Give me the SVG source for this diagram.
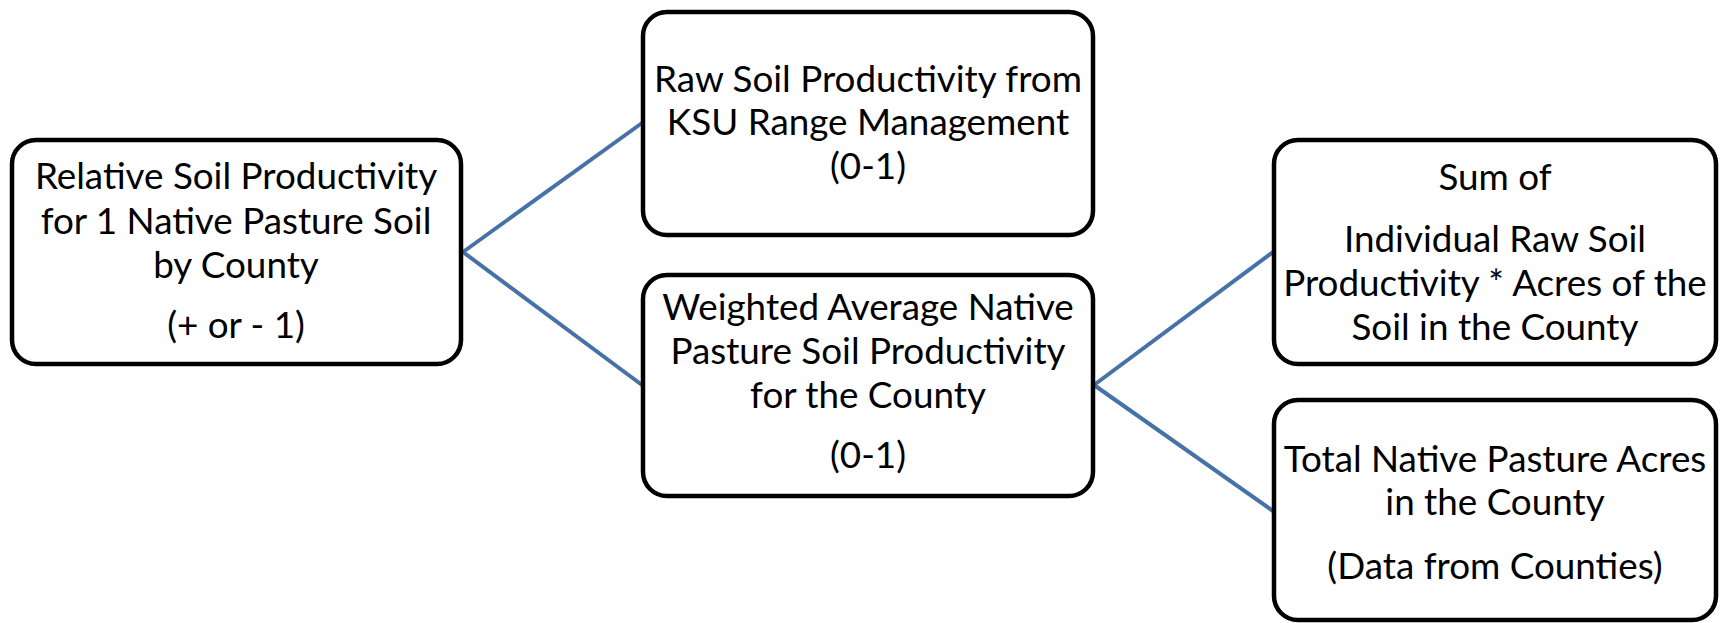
<svg xmlns="http://www.w3.org/2000/svg" width="1720" height="623" viewBox="0 0 1720 623">
<style>
.box{fill:#ffffff;stroke:#000000;stroke-width:4.5}
.t{font-family:Lato,"Open Sans","Liberation Sans",sans-serif;font-size:36.8px;fill:#000000;text-anchor:middle}
.c{stroke:#4672a8;stroke-width:4;fill:none}
</style>
<rect width="1720" height="623" fill="#ffffff"/>
<g id="connectors">
<line class="c" x1="463" y1="252" x2="642" y2="123"/>
<line class="c" x1="463" y1="252" x2="642" y2="385"/>
<line class="c" x1="1094" y1="385" x2="1273" y2="252"/>
<line class="c" x1="1094" y1="385" x2="1273" y2="511"/>
</g>
<g id="node1">
<rect class="box" x="12" y="140" width="449" height="224" rx="24"/>
<text class="t" x="236" y="189">Relative Soil Productivity</text>
<text class="t" x="236" y="234">for 1 Native Pasture Soil</text>
<text class="t" x="236" y="278">by County</text>
<text class="t" x="236" y="338">(+ or - 1)</text>
</g>
<g id="node2">
<rect class="box" x="643" y="12" width="450" height="223" rx="24"/>
<text class="t" x="868" y="92">Raw Soil Productivity from</text>
<text class="t" x="868" y="135">KSU Range Management</text>
<text class="t" x="868" y="179">(0-1)</text>
</g>
<g id="node3">
<rect class="box" x="643" y="275" width="450" height="221" rx="24"/>
<text class="t" x="868" y="320">Weighted Average Native</text>
<text class="t" x="868" y="364">Pasture Soil Productivity</text>
<text class="t" x="868" y="408">for the County</text>
<text class="t" x="868" y="468">(0-1)</text>
</g>
<g id="node4">
<rect class="box" x="1274" y="140" width="442" height="224" rx="24"/>
<text class="t" x="1495" y="190">Sum of</text>
<text class="t" x="1495" y="252">Individual Raw Soil</text>
<text class="t" x="1495" y="296">Productivity * Acres of the</text>
<text class="t" x="1495" y="340">Soil in the County</text>
</g>
<g id="node5">
<rect class="box" x="1274" y="400" width="442" height="220" rx="24"/>
<text class="t" x="1495" y="472">Total Native Pasture Acres</text>
<text class="t" x="1495" y="515">in the County</text>
<text class="t" x="1495" y="579">(Data from Counties)</text>
</g>
</svg>
